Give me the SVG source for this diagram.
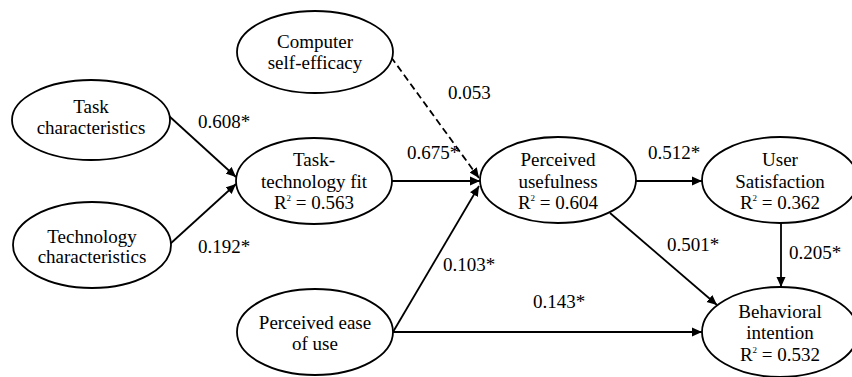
<svg xmlns="http://www.w3.org/2000/svg" width="852" height="377" viewBox="0 0 852 377" font-family="Liberation Serif, Times New Roman, DejaVu Serif, serif">
<style>
.n ellipse{fill:#fff;stroke:#000;stroke-width:1.8}
text{font-size:19px;fill:#000}
.n text{text-anchor:middle}
.c line{stroke:#000;stroke-width:1.8;marker-end:url(#ah)}
.c line.d{stroke-dasharray:7,4}
.sup{font-size:9px}
</style>
<defs>
<marker id="ah" viewBox="0 0 10 10" refX="10" refY="5" markerWidth="10" markerHeight="10" markerUnits="userSpaceOnUse" orient="auto">
<path d="M0,0.5 L10,5 L0,9.5 Z" fill="#000"/>
</marker>
</defs>
<rect width="852" height="377" fill="#fff"/>
<g class="c" id="connectors">
<line x1="169" y1="116" x2="236" y2="177"/>
<line x1="170" y1="244" x2="236" y2="184"/>
<line x1="392" y1="181" x2="480" y2="181"/>
<line class="d" x1="391" y1="57" x2="479" y2="178"/>
<line x1="393" y1="332" x2="479" y2="186"/>
<line x1="393" y1="332" x2="702" y2="332"/>
<line x1="636" y1="181" x2="702" y2="181"/>
<line x1="610" y1="213" x2="717" y2="305"/>
<line x1="781" y1="223" x2="781" y2="287"/>
</g>
<g id="labels">
<text x="198" y="128">0.608*</text>
<text x="198" y="253">0.192*</text>
<text x="407" y="159">0.675*</text>
<text x="448" y="99">0.053</text>
<text x="648" y="159">0.512*</text>
<text x="667" y="251">0.501*</text>
<text x="443" y="271">0.103*</text>
<text x="533" y="308">0.143*</text>
<text x="789" y="259">0.205*</text>
</g>
<g class="n" id="cse">
<ellipse cx="315" cy="52" rx="78" ry="41"/>
<text x="315" y="48">Computer</text>
<text x="315" y="69">self-efficacy</text>
</g>
<g class="n" id="tc">
<ellipse cx="91" cy="120" rx="79" ry="40"/>
<text x="91" y="113">Task</text>
<text x="91" y="134">characteristics</text>
</g>
<g class="n" id="techc">
<ellipse cx="92" cy="245" rx="79" ry="43"/>
<text x="92" y="243">Technology</text>
<text x="92" y="263">characteristics</text>
</g>
<g class="n" id="ttf">
<ellipse cx="314" cy="181" rx="78" ry="43"/>
<text x="314" y="166">Task-</text>
<text x="314" y="188">technology fit</text>
<text x="314" y="209">R<tspan class="sup" dy="-8">2</tspan><tspan dy="8"> = 0.563</tspan></text>
</g>
<g class="n" id="pu">
<ellipse cx="558" cy="180" rx="78" ry="43"/>
<text x="558" y="166">Perceived</text>
<text x="558" y="188">usefulness</text>
<text x="558" y="209">R<tspan class="sup" dy="-8">2</tspan><tspan dy="8"> = 0.604</tspan></text>
</g>
<g class="n" id="us">
<ellipse cx="780" cy="180" rx="78" ry="43"/>
<text x="780" y="166">User</text>
<text x="780" y="188">Satisfaction</text>
<text x="780" y="209">R<tspan class="sup" dy="-8">2</tspan><tspan dy="8"> = 0.362</tspan></text>
</g>
<g class="n" id="peu">
<ellipse cx="315" cy="332" rx="78" ry="43"/>
<text x="315" y="329">Perceived ease</text>
<text x="315" y="350">of use</text>
</g>
<g class="n" id="bi">
<ellipse cx="780" cy="332" rx="78" ry="45"/>
<text x="780" y="318">Behavioral</text>
<text x="780" y="339">intention</text>
<text x="780" y="361">R<tspan class="sup" dy="-8">2</tspan><tspan dy="8"> = 0.532</tspan></text>
</g>
</svg>
